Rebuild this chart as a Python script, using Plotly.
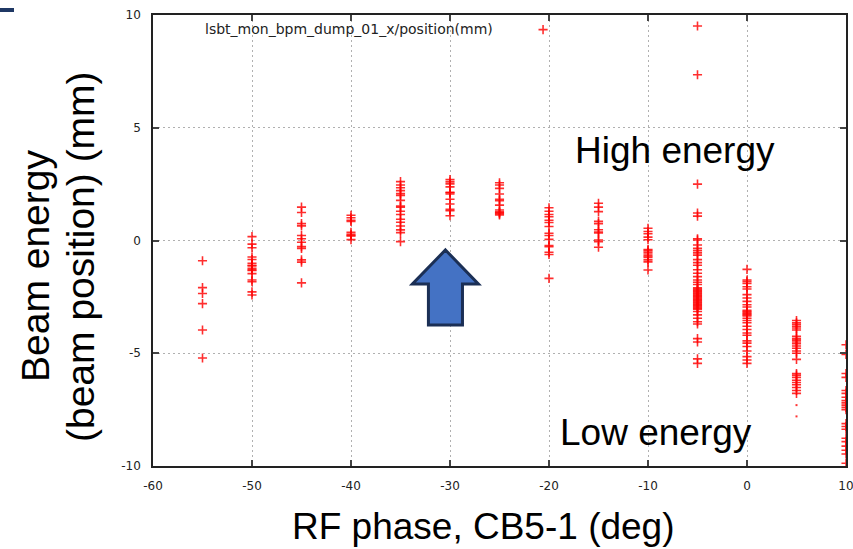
import plotly.graph_objects as go

# RF phase scan of CB5-1: beam position at the LSBT dump BPM for each phase setting
phase_m55 = [-0.90, -2.09, -2.35, -2.80, -3.97, -5.21]
phase_m50 = [0.17, -0.16, -0.32, -0.73, -0.84, -1.01, -1.10, -1.13, -1.23, -1.30, -1.33, -1.47,
             -1.75, -1.83, -2.28, -2.42]
phase_m45 = [1.48, 1.24, 0.75, 0.65, 0.22, 0.08, -0.08, -0.27, -0.35, -0.86, -0.96, -1.88]
phase_m40 = [1.12, 1.01, 0.90, 0.84, 0.36, 0.28, 0.22, 0.20, 0.04]
phase_m35 = [2.61, 2.46, 2.34, 2.21, 2.08, 2.00, 1.78, 1.53, 1.48, 1.30, 1.15, 0.94, 0.81,
             0.64, 0.47, 0.35, -0.05]
phase_m30 = [2.70, 2.60, 2.51, 2.38, 2.14, 2.12, 2.06, 1.83, 1.62, 1.38, 1.32, 1.10]
phase_m25 = [2.56, 2.46, 2.31, 2.06, 1.83, 1.76, 1.57, 1.35, 1.27, 1.23, 1.18, 1.13]
phase_m20 = [1.45, 1.30, 1.15, 1.05, 0.90, 0.80, 0.62, 0.32, 0.22, 0.05, -0.22, -0.28, -0.52,
             -0.62, -1.68]
phase_m15 = [1.65, 1.48, 1.28, 0.85, 0.75, 0.48, 0.38, 0.33, 0.02, -0.05, -0.30]
phase_m10 = [0.54, 0.40, 0.30, 0.15, 0.03, -0.40, -0.45, -0.52, -0.60, -0.68, -0.75, -0.86,
             -0.95, -1.31]
phase_m5 = [9.51, 7.35, 2.50, 1.22, 1.08, 0.08, 0.02, -0.20, -0.35, -0.45, -0.55, -0.65, -0.85,
            -0.98, -1.10, -1.30, -1.45, -1.60, -1.75, -1.85, -1.95, -2.10, -2.15, -2.20, -2.25,
            -2.30, -2.35, -2.40, -2.45, -2.50, -2.55, -2.60, -2.65, -2.70, -2.75, -2.80, -2.85,
            -2.90, -2.95, -3.00, -3.05, -3.15, -3.30, -3.45, -3.60, -3.70, -4.35, -4.50, -5.25,
            -5.45]
phase_0 = [-1.28, -1.75, -1.82, -1.90, -2.05, -2.15, -2.40, -2.55, -2.70, -2.85, -2.95, -3.10,
           -3.15, -3.20, -3.25, -3.30, -3.35, -3.45, -3.55, -3.65, -3.80, -3.95, -4.10, -4.20,
           -4.45, -4.55, -4.70, -4.90, -5.15, -5.30, -5.45]
phase_p5 = [-3.55, -3.65, -3.72, -3.80, -3.88, -3.97, -4.25, -4.35, -4.42, -4.50, -4.58, -4.68,
            -4.78, -4.90, -5.00, -5.27, -5.90, -5.97, -6.07, -6.20, -6.30, -6.40, -6.52, -6.65,
            -6.78]
phase_p10 = [-4.62, -5.05, -5.90, -6.07, -6.65, -6.78, -6.95, -7.10, -7.20, -7.30, -7.40, -7.50,
             -8.12, -8.25, -8.37, -8.77, -8.92, -9.12, -9.30, -9.47, -9.88]

# single stray reading taken slightly off the -20 deg setting
stray_phase = [-20.6]
stray_pos = [9.35]

# two faint readings at +5 deg
faint_phase = [5, 5]
faint_pos = [-7.30, -7.80]

columns = [(-55, phase_m55), (-50, phase_m50), (-45, phase_m45), (-40, phase_m40),
           (-35, phase_m35), (-30, phase_m30), (-25, phase_m25), (-20, phase_m20),
           (-15, phase_m15), (-10, phase_m10), (-5, phase_m5), (0, phase_0),
           (5, phase_p5), (10, phase_p10)]

x_ticks = [-60, -50, -40, -30, -20, -10, 0, 10]
y_ticks = [-10, -5, 0, 5, 10]

xs, ys = [], []
for ph, vals in columns:
    xs += [ph] * len(vals)
    ys += vals
xs += stray_phase
ys += stray_pos

# figure geometry (pixels)
W, H = 853, 549
L, R, T, B = 153, 7, 15, 83
PW, PH = W - L - R, H - T - B


def px(xp):
    return (xp - L) / PW


def py(yp):
    return (H - B - yp) / PH


RED = "rgba(255,0,0,0.82)"

fig = go.Figure()
fig.add_trace(go.Scatter(
    x=xs, y=ys, mode="markers",
    marker=dict(symbol="cross-thin", size=6.5, color=RED, line=dict(color=RED, width=1.6)),
    showlegend=False, hoverinfo="x+y",
))
fig.add_trace(go.Scatter(
    x=faint_phase, y=faint_pos, mode="markers",
    marker=dict(symbol="square", size=2, color="rgba(255,0,0,0.8)", line=dict(width=0)),
    showlegend=False,
))

axis_common = dict(
    showline=True, linecolor="#222", linewidth=1.5, mirror="ticks",
    ticks="inside", ticklen=6, tickwidth=1.5, tickcolor="#444",
    showgrid=True, gridcolor="#b0b0b0", gridwidth=1, griddash="2px,3px",
    zeroline=False, automargin=False,
    tickfont=dict(family="DejaVu Sans", size=12, color="#222"),
)

fig.update_xaxes(range=[-60, 10], tickvals=x_ticks, ticktext=[str(v) for v in x_ticks],
                 ticklabelstandoff=8, ticklabeloverflow="allow", **axis_common)
fig.update_yaxes(range=[-10, 10], tickvals=y_ticks, ticktext=[str(v) for v in y_ticks],
                 ticklabelstandoff=8, ticklabeloverflow="allow", **axis_common)

# white boxes that hide the grid under the key and the text labels
white_boxes = [
    (L, T, W - R, 40),      # key strip along the top
    (551, 115, 815, 182),   # behind "High energy"
    (545, 395, 765, 460),   # behind "Low energy"
]
for x0, y0, x1, y1 in white_boxes:
    fig.add_shape(type="rect", xref="paper", yref="paper",
                  x0=px(x0), x1=px(x1), y0=py(y1), y1=py(y0),
                  fillcolor="white", line=dict(width=0), layer="between")

# block arrow pointing up at the -30 deg setting
arrow = [(-30.46, -0.42), (-27.13, -1.93), (-28.74, -1.93), (-28.74, -3.75),
         (-32.18, -3.75), (-32.18, -1.93), (-33.80, -1.93)]
path = "M " + " L ".join(f"{x},{y}" for x, y in arrow) + " Z"
fig.add_shape(type="path", path=path, xref="x", yref="y",
              fillcolor="#4472C4", line=dict(color="#1B2F55", width=3), layer="above")

# small dark mark in the upper-left corner
fig.add_shape(type="rect", xref="paper", yref="paper",
              x0=px(0), x1=px(14), y0=py(12), y1=py(8),
              fillcolor="#1F3864", line=dict(width=0))

big = dict(family="Liberation Sans, Arial", size=37, color="black")
ytitle = dict(family="Liberation Sans, Arial", size=39, color="black")
fig.add_annotation(text="lsbt_mon_bpm_dump_01_x/position(mm)", xref="paper", yref="paper",
                   x=px(203), y=py(29), xanchor="left", yanchor="middle", showarrow=False,
                   font=dict(family="DejaVu Sans", size=14, color="#222"))
fig.add_annotation(text="High energy", xref="paper", yref="paper",
                   x=px(675), y=py(151), xanchor="center", yanchor="middle",
                   showarrow=False, font=big)
fig.add_annotation(text="Low energy", xref="paper", yref="paper",
                   x=px(656), y=py(432), xanchor="center", yanchor="middle",
                   showarrow=False, font=big)
fig.add_annotation(text="RF phase, CB5-1 (deg)", xref="paper", yref="paper",
                   x=px(483), y=py(526), xanchor="center", yanchor="middle",
                   showarrow=False, font=big)
fig.add_annotation(text="Beam energy", xref="paper", yref="paper",
                   x=px(35), y=py(266), xanchor="center", yanchor="middle",
                   textangle=-90, showarrow=False, font=ytitle)
fig.add_annotation(text="(beam position) (mm)", xref="paper", yref="paper",
                   x=px(80), y=py(257), xanchor="center", yanchor="middle",
                   textangle=-90, showarrow=False, font=ytitle)

fig.update_layout(
    width=W, height=H,
    margin=dict(l=L, r=R, t=T, b=B, pad=0, autoexpand=False),
    paper_bgcolor="white", plot_bgcolor="white",
    showlegend=False,
)

fig.write_html("out.html")
